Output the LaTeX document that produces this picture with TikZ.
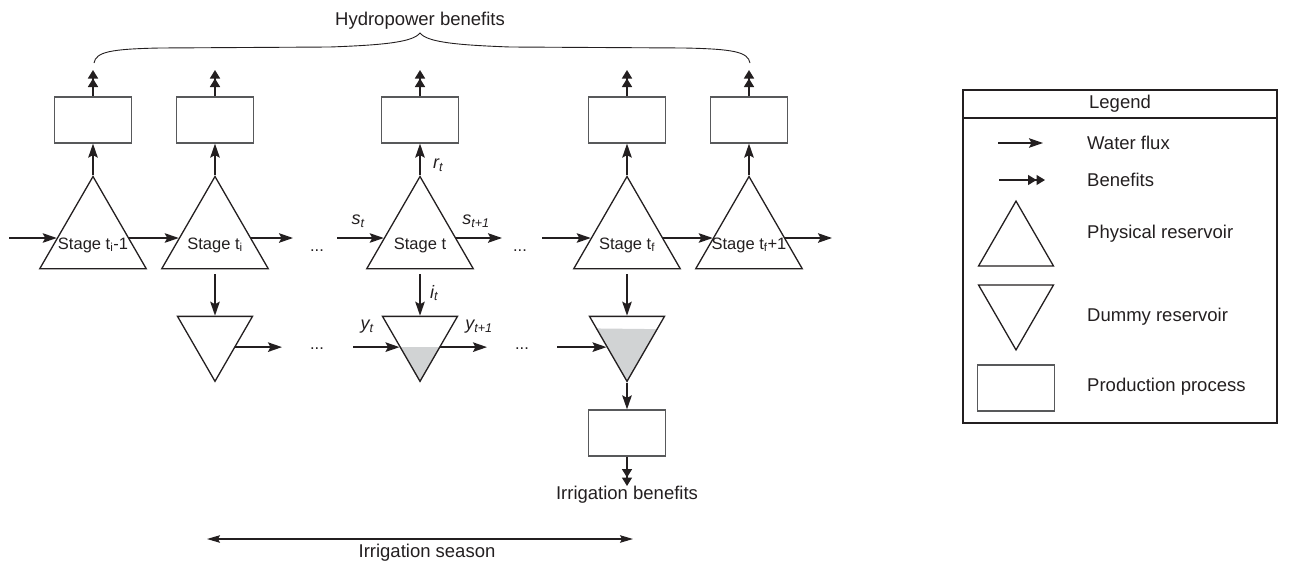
\documentclass[tikz,border=0pt]{standalone}
\usepackage{fontspec}
\setmainfont{Liberation Sans}
\usetikzlibrary{arrows.meta,shapes.geometric,calc}
\pgfdeclarelayer{background}
\pgfsetlayers{background,main}
\definecolor{ink}{HTML}{231F20}
\definecolor{shadegray}{HTML}{D1D3D4}
\definecolor{boxline}{HTML}{58595B}
\tikzset{
  phys/.style={regular polygon, regular polygon sides=3, draw=ink, line width=1.3pt, minimum size=123pt, inner sep=0pt},
  dummy/.style={regular polygon, regular polygon sides=3, shape border rotate=180, draw=ink, line width=1.3pt, minimum size=86.6pt, inner sep=0pt},
  legphys/.style={regular polygon, regular polygon sides=3, draw=ink, line width=1.3pt, minimum size=86.6pt, inner sep=0pt},
  proc/.style={draw=boxline, line width=1.2pt, minimum width=77pt, minimum height=46pt, inner sep=0pt},
  flux/.style={draw=ink, line width=1.8pt, -{Stealth[length=14pt,width=9.5pt,inset=2.5pt]}},
  ben/.style={draw=ink, line width=1.6pt, -{Triangle[length=8.5pt,width=10pt] Triangle[length=8.5pt,width=10pt]}},
  season/.style={draw=ink, line width=1.1pt, {Stealth[length=13pt,width=7.5pt,inset=2pt]}-{Stealth[length=13pt,width=7.5pt,inset=2pt]}},
  lab/.style={font=\fontsize{18.5}{22}\selectfont, text=ink, inner sep=0pt},
  stg/.style={font=\fontsize{16.5}{20}\selectfont, text=ink, inner sep=0pt},
  var/.style={font=\fontsize{18}{21}\selectfont\itshape, text=ink, inner sep=0pt},
}
\begin{document}
\begin{tikzpicture}[x=1pt,y=-1pt]
\useasboundingbox (0,0) rectangle (1292,562);

% physical reservoirs
\node[phys, label={[stg,yshift=-7pt]center:Stage t\textsubscript{i}-1}] (T1) at (93,238) {};
\node[phys, label={[stg,yshift=-7pt]center:Stage t\textsubscript{i}}] (T2) at (215,238) {};
\node[phys, label={[stg,yshift=-7pt]center:Stage t}] (T3) at (420,238) {};
\node[phys, label={[stg,yshift=-7pt]center:Stage t\textsubscript{f}}] (T4) at (627,238) {};
\node[phys, label={[stg,yshift=-7pt]center:Stage t\textsubscript{f}+1}] (T5) at (749,238) {};

% production boxes
\node[proc] (B1) at (93,120) {};
\node[proc] (B2) at (215,120) {};
\node[proc] (B3) at (420,120) {};
\node[proc] (B4) at (627,120) {};
\node[proc] (B5) at (749,120) {};
\node[proc] (B6) at (627,433) {};

% dummy reservoirs
\node[dummy] (D1) at (215,338) {};
\node[dummy] (D2) at (420,338) {};
\node[dummy] (D3) at (627,338) {};

\begin{pgfonlayer}{background}
\fill[shadegray] (D2.204) -- (D2.-24) -- (D2.corner 1) -- cycle;
\fill[shadegray] (D3.163.5) -- (D3.16.5) -- (D3.corner 1) -- cycle;
\end{pgfonlayer}

% free ends
\coordinate (c0) at (9,238);
\coordinate (c1) at (293,238);
\coordinate (c2) at (337,238);
\coordinate (c3) at (502,238);
\coordinate (c4) at (542,238);
\coordinate (c5) at (832,238);
\coordinate (l1) at (282,347);
\coordinate (l2) at (353,347);
\coordinate (l3) at (487,347);
\coordinate (l4) at (557,347);
\coordinate (h1) at (93,70);
\coordinate (h2) at (215,70);
\coordinate (h3) at (420,70);
\coordinate (h4) at (627,70);
\coordinate (h5) at (749,70);
\coordinate (h6) at (627,486);
\coordinate (sa) at (207,539);
\coordinate (sb) at (633,539);

% upper row water flux
\draw[flux] (c0) -- (T1);
\draw[flux] (T1) -- (T2);
\draw[flux] (T2) -- (c1);
\draw[flux] (c2) -- (T3);
\draw[flux] (T3) -- (c3);
\draw[flux] (c4) -- (T4);
\draw[flux] (T4) -- (T5);
\draw[flux] (T5) -- (c5);

% releases to production
\foreach \i in {1,...,5} {
  \draw[flux] (T\i) -- (B\i);
  \draw[ben] (B\i) -- (h\i);
}

% irrigation diversions
\draw[flux, shorten <=5pt] (T2) -- (D1);
\draw[flux, shorten <=5pt] (T3) -- (D2);
\draw[flux, shorten <=5pt] (T4) -- (D3);

% lower row
\draw[flux] (D1.-24) -- (D1.-24 -| l1);
\draw[flux] (l2 |- D2.204) -- (D2.204);
\draw[flux] (D2.-24) -- (D2.-24 -| l3);
\draw[flux] (l4 |- D3.204) -- (D3.204);

\draw[flux] (D3) -- (B6);
\draw[ben] (B6) -- (h6);

% dots
\node[stg, anchor=base] (dt1) at (317,251) {...};
\node[stg, anchor=base] (dt2) at (520,251) {...};
\node[stg, anchor=base] (dt3) at (317,349.5) {...};
\node[stg, anchor=base] (dt4) at (522,349.5) {...};

% variable labels
\node[var] (st) at (358,221) {s\textsubscript{t}};
\node[var] (st1) at (476,221) {s\textsubscript{t+1}};
\node[var] (rt) at (438,165) {r\textsubscript{t}};
\node[var] (it) at (434,293) {i\textsubscript{t}};
\node[var] (yt) at (367,327) {y\textsubscript{t}};
\node[var] (yt1) at (479,327) {y\textsubscript{t+1}};

% brace
\draw[ink, line width=0.9pt] (94,63) .. controls (96,52) and (110,49) .. (160,48) -- (330,47)
  .. controls (385,45) and (413,42) .. (420,33)
  .. controls (427,42) and (455,45) .. (510,47) -- (684,48)
  .. controls (734,49) and (748,52) .. (750,63);

\node[lab, anchor=base] (hp) at (420,25) {Hydropower benefits};
\node[lab, anchor=base] (ib) at (627,499) {Irrigation benefits};

% irrigation season
\draw[season] (sa) -- (sb);
\node[lab, anchor=base] (is) at (427,557) {Irrigation season};

% legend
\node[draw=ink, line width=1.3pt, minimum width=314pt, minimum height=333pt, inner sep=0pt] (leg) at (1120,256.5) {};
\draw[ink, line width=1.3pt] (963,118) -- (1277,118);
\node[lab, anchor=base] (legt) at (1120,108) {Legend};
\coordinate (lw1) at (998,143);
\coordinate (lw2) at (1043,143);
\coordinate (lb1) at (999,180);
\coordinate (lb2) at (1045,180);
\draw[flux, line width=1.5pt] (lw1) -- (lw2);
\draw[ben, line width=1.3pt] (lb1) -- (lb2);
\node[legphys] (lp) at (1016,244.4) {};
\node[dummy] (ld) at (1016,306.6) {};
\node[proc] (lbox) at (1016,388) {};
\node[lab, anchor=base west] (lt1) at (1087,149) {Water flux};
\node[lab, anchor=base west] (lt2) at (1087,186) {Benefits};
\node[lab, anchor=base west] (lt3) at (1087,238) {Physical reservoir};
\node[lab, anchor=base west] (lt4) at (1087,321) {Dummy reservoir};
\node[lab, anchor=base west] (lt5) at (1087,391) {Production process};
\end{tikzpicture}
\end{document}
